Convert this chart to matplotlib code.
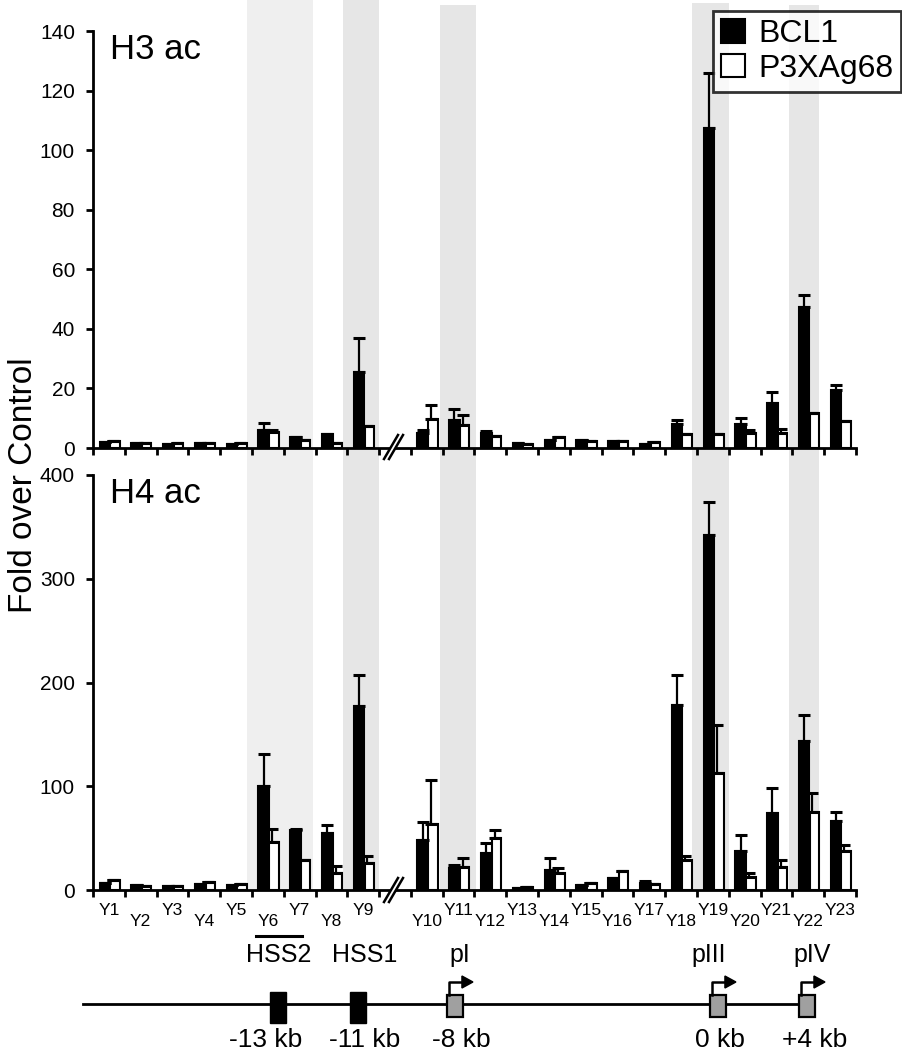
import matplotlib.pyplot as plt
import numpy as np
from matplotlib.patches import Rectangle, Polygon

plt.rcParams['font.family'] = ['Liberation Sans', 'DejaVu Sans']

# data
regions = ['Y1', 'Y2', 'Y3', 'Y4', 'Y5', 'Y6', 'Y7', 'Y8', 'Y9', 'Y10', 'Y11', 'Y12',
           'Y13', 'Y14', 'Y15', 'Y16', 'Y17', 'Y18', 'Y19', 'Y20', 'Y21', 'Y22', 'Y23']

h3_bcl1 = [2.0, 1.6, 1.5, 1.8, 1.5, 6.0, 3.8, 4.8, 25.5, 5.2, 9.5, 5.0,
           1.8, 2.8, 2.8, 2.2, 1.5, 8.0, 107.5, 8.2, 15.2, 47.5, 19.5]
h3_bcl1_err = [0, 0, 0, 0, 0, 2.5, 0, 0, 11.5, 1.0, 3.5, 0.8,
               0, 0, 0, 0, 0, 1.5, 18.5, 2.0, 3.5, 4.0, 1.8]
h3_p3x = [2.4, 1.8, 1.6, 1.8, 1.8, 5.5, 2.6, 1.8, 7.5, 9.8, 7.8, 4.0,
          1.4, 3.6, 2.4, 2.2, 2.0, 4.6, 4.6, 5.0, 5.0, 11.8, 9.0]
h3_p3x_err = [0, 0, 0, 0, 0, 0.5, 0, 0, 0, 4.5, 3.2, 0,
              0, 0, 0, 0, 0, 0, 0, 1.2, 1.5, 0, 0]

h4_bcl1 = [6.4, 4.5, 3.5, 6.0, 5.0, 100.5, 57.5, 54.5, 177, 48, 21, 36,
           2, 19, 4.5, 12, 7, 178, 342, 38, 74, 144, 66.5]
h4_bcl1_err = [0, 0, 0, 0, 0, 30.5, 1.0, 8.5, 30, 18, 3, 9.5,
               0, 12, 0, 0, 1.5, 29, 32, 15, 24.5, 25, 8.5]
h4_p3x = [9.5, 4.0, 4.0, 7.4, 5.5, 46, 28.5, 16.5, 26.5, 64, 22, 50,
          3, 16.5, 7, 18, 5.5, 28.5, 113, 12.5, 22, 75.5, 37.5]
h4_p3x_err = [0, 0, 0, 0, 0, 13, 0, 6.5, 6.5, 42, 9, 8,
              0, 4.5, 0, 0, 0, 4, 46, 3.5, 6.5, 18, 5.5]

# slot index per region, one empty slot for the axis break after Y9
slots = np.array([i if i < 9 else i + 1 for i in range(len(regions))])
nslots = 24

fig = plt.figure(figsize=(9.03, 10.5), dpi=100)

# pixel overlay helpers
X0, SW = 93.0, 31.8
def px(s):
    return X0 + s * SW

bg = fig.add_axes([0, 0, 1, 1], zorder=-1)
bg.set_xlim(0, 903)
bg.set_ylim(1050, 0)
bg.axis('off')
bands = [(4.84, 6.92, 0, '#efefef'), (7.86, 9.0, 0, '#e6e6e6'),
         (10.91, 12.04, 5, '#e6e6e6'), (18.84, 20.0, 3, '#e6e6e6'),
         (21.89, 22.83, 5, '#e6e6e6')]
for s0, s1, top, c in bands:
    bg.add_patch(Rectangle((px(s0), top), px(s1) - px(s0), 892 - top,
                           facecolor=c, edgecolor='none'))

left, width = 93 / 903, (856 - 93) / 903
ax1 = fig.add_axes([left, 1 - 448 / 1050, width, 417 / 1050])
ax2 = fig.add_axes([left, 1 - 890 / 1050, width, 415 / 1050])


def draw_panel(ax, black, black_err, white, white_err, ymax, step, title):
    ax.patch.set_visible(False)
    xb = slots + 0.37
    xw = slots + 0.69
    ax.bar(xb, black, 0.33, color='black', edgecolor='black', linewidth=1.5, zorder=3)
    ax.bar(xw, white, 0.30, color='white', edgecolor='black', linewidth=1.5, zorder=3)
    ax.errorbar(xb, black, yerr=[np.zeros(len(black)), black_err], fmt='none',
                ecolor='black', elinewidth=1.6, capsize=4, capthick=2.2, zorder=4)
    ax.errorbar(xw - 0.06, white, yerr=[np.zeros(len(white)), white_err], fmt='none',
                ecolor='black', elinewidth=1.6, capsize=4, capthick=2.2, zorder=4)
    ax.set_xlim(0, nslots)
    ax.set_ylim(0, ymax)
    ax.set_yticks(np.arange(0, ymax + 1, step))
    ax.set_xticks(np.arange(0, nslots + 1))
    ax.set_xticklabels([])
    for sp in ['top', 'right']:
        ax.spines[sp].set_visible(False)
    for sp in ['left', 'bottom']:
        ax.spines[sp].set_linewidth(2.0)
    ax.tick_params(axis='both', direction='out', length=5, width=2.0,
                   labelsize=15, pad=8)
    ax.text(0.022, 0.955, title, transform=ax.transAxes, fontsize=25,
            ha='left', va='center')


draw_panel(ax1, h3_bcl1, h3_bcl1_err, h3_p3x, h3_p3x_err, 140, 20, 'H3 ac')
draw_panel(ax2, h4_bcl1, h4_bcl1_err, h4_p3x, h4_p3x_err, 400, 100, 'H4 ac')

# staggered region labels under the lower panel
for i, (s, lab) in enumerate(zip(slots, regions)):
    off = -14.5 if i % 2 == 0 else -22.5
    ax2.annotate(lab, xy=(s + 0.5, 0), xycoords=('data', 'axes fraction'),
                 xytext=(0, off), textcoords='offset points',
                 ha='center', va='center', fontsize=12.5)

fig.text(24 / 903, 1 - 485 / 1050, 'Fold over Control', rotation=90,
         fontsize=24, ha='center', va='center')

# legend
hb = Rectangle((0, 0), 1, 1, facecolor='black', edgecolor='black', linewidth=1.5)
hw = Rectangle((0, 0), 1, 1, facecolor='white', edgecolor='black', linewidth=1.5)
leg = fig.legend([hb, hw], ['BCL1', 'P3XAg68'], loc='upper right',
                 bbox_to_anchor=(901 / 903, 1 - 11 / 1050), fontsize=23,
                 frameon=True, fancybox=False, edgecolor='black',
                 handlelength=0.75, handleheight=0.75, handletextpad=0.4,
                 borderpad=0.25, labelspacing=0.15, borderaxespad=0)
leg.get_frame().set_linewidth(2.0)

# foreground overlay: axis breaks and locus diagram
fg = fig.add_axes([0, 0, 1, 1], zorder=10)
fg.patch.set_visible(False)
fg.set_xlim(0, 903)
fg.set_ylim(1050, 0)
fg.axis('off')

for yc in (447, 890):
    fg.add_patch(Polygon([[385, yc + 12], [398, yc - 12], [403, yc - 12], [390, yc + 12]],
                         closed=True, facecolor='white', edgecolor='none'))
    for dx in (0, 5):
        fg.plot([384 + dx, 398 + dx], [yc + 12, yc - 12], color='black', lw=1.8)

# bar under Y6 and region names
fg.plot([px(5.13), px(6.57)], [936, 936], color='black', lw=2.2)
for s, name in [(5.85, 'HSS2'), (8.55, 'HSS1'), (11.54, 'pI'), (19.37, 'pIII'), (22.61, 'pIV')]:
    fg.text(px(s), 955, name, ha='center', va='center', fontsize=18)

# chromosome line
fg.plot([83, px(22.2)], [1004, 1004], color='black', lw=2.0, zorder=1)
for s0, s1 in [(5.57, 6.07), (8.08, 8.58)]:
    fg.add_patch(Rectangle((px(s0), 992), px(s1) - px(s0), 31, facecolor='black',
                           edgecolor='black', zorder=2))
for s0, s1 in [(11.13, 11.64), (19.40, 19.91), (22.20, 22.70)]:
    x0, x1 = px(s0), px(s1)
    fg.add_patch(Rectangle((x0, 995), x1 - x0, 22, facecolor='#a0a0a0',
                           edgecolor='black', linewidth=1.6, zorder=2))
    xa = x0 + 2
    fg.plot([xa, xa, xa + 13], [995, 982, 982], color='black', lw=1.8, zorder=3)
    fg.add_patch(Polygon([[xa + 13, 976], [xa + 24, 982], [xa + 13, 988]],
                         closed=True, facecolor='black', edgecolor='black', zorder=3))

for s, lab in [(5.44, '-13 kb'), (8.55, '-11 kb'), (11.57, '-8 kb'), (19.72, '0 kb'), (22.70, '+4 kb')]:
    fg.text(px(s), 1040, lab, ha='center', va='center', fontsize=19)

fig.savefig('out.png', dpi=100)
